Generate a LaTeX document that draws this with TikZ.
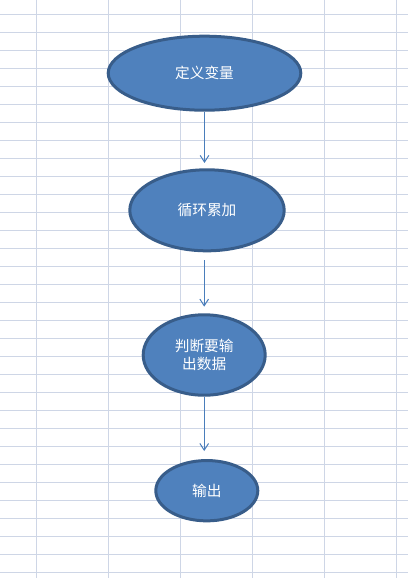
\documentclass[tikz,border=0pt]{standalone}
\usepackage{fontspec}
\newfontfamily\cjk{Noto Sans CJK SC}
\usetikzlibrary{shapes.geometric,arrows.meta}
\definecolor{gridc}{RGB}{206,214,230}
\definecolor{fillc}{RGB}{79,129,189}
\definecolor{edgec}{RGB}{56,93,138}
\definecolor{arrc}{RGB}{74,126,187}
\tikzset{
  oval/.style={ellipse, draw=edgec, fill=fillc, line width=2.25pt, inner sep=0pt,
    text=white, font=\cjk\fontsize{11}{13.7}\selectfont, align=center},
  flow/.style={draw=arrc, line width=0.75pt, -{Straight Barb[length=5pt,width=6.5pt,line width=0.75pt]}},
  gridline/.style={draw=gridc, line width=0.75pt}
}
\begin{document}
\begin{tikzpicture}[x=0.75pt,y=-0.75pt]
\useasboundingbox (0,0) rectangle (408,578);
\fill[white] (0,0) rectangle (408,578);
\foreach \i in {0,...,5} \draw[gridline] (36.5+72*\i,0) -- (36.5+72*\i,578);
\foreach \j in {0,...,31} \draw[gridline] (0,14.5+18*\j) -- (408,14.5+18*\j);
\node[oval, minimum width=192.6*0.75pt, minimum height=74*0.75pt] (e1) at (204.5,73.2) {定义变量};
\node[oval, minimum width=154.4*0.75pt, minimum height=81*0.75pt] (e2) at (207,210.3) {循环累加};
\node[oval, minimum width=122*0.75pt, minimum height=80.4*0.75pt] (e3) at (204.2,355) {判断要输\\出数据};
\node[oval, minimum width=102*0.75pt, minimum height=60.3*0.75pt] (e4) at (206.8,490.7) {输出};
\draw[flow, shorten >=4pt] (e1.south) -- (e1.south |- e2.north);
\draw[flow, shorten <=6pt, shorten >=5pt] (e3.north |- e2.south) -- (e3.north);
\draw[flow, shorten >=6pt] (e3.south) -- (e3.south |- e4.north);
\end{tikzpicture}
\end{document}
